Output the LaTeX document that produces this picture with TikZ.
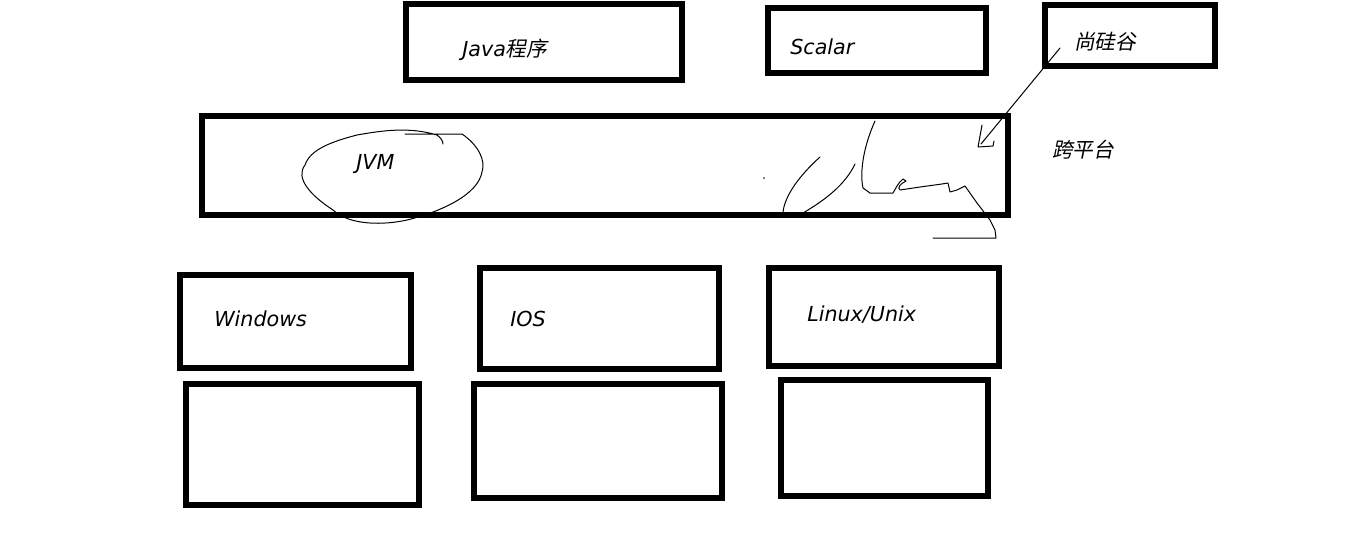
\documentclass[tikz,border=0pt]{standalone}
\usepackage{fontspec}
\setmainfont{DejaVu Sans}
\newfontfamily\cjk{Noto Sans CJK SC}[FakeSlant=0.2]
\usepackage{tikz}

\tikzset{
  box/.style={line width=4pt},
  pen/.style={line width=0.75pt, line cap=round, line join=round},
  label/.style={anchor=west, inner sep=0.75pt, font=\fontsize{15.5}{18}\selectfont\itshape}
}

\begin{document}
\begin{tikzpicture}[x=0.75pt,y=0.75pt,yscale=-1,xscale=1]
\useasboundingbox (0,0) rectangle (1352,557);

%Boxes top row
\draw [box] (406,4) rectangle (682,80) ;
\draw [box] (768,8) rectangle (986,73) ;
\draw [box] (1045,5) rectangle (1215,66) ;
%Box of the JVM
\draw [box] (202,116) rectangle (1008,215) ;
%Boxes of the systems
\draw [box] (180,275) rectangle (411,368) ;
\draw [box] (480,268) rectangle (719,369) ;
\draw [box] (769,268) rectangle (999,366) ;
%Empty boxes
\draw [box] (186,384) rectangle (419,505) ;
\draw [box] (474,384) rectangle (722,498) ;
\draw [box] (781,380) rectangle (988,496) ;

% Text Node
\node [label] (java) at (461,50) {Java{\cjk 程序}};
% Text Node
\node [label] (scalar) at (789,47) {Scalar};
% Text Node
\node [label] (sgg) at (1073,42) {\cjk 尚硅谷};
% Text Node
\node [label] (kpt) at (1051,150) {\cjk 跨平台};
% Text Node
\node [label] (jvm) at (355,164) {JVM};
% Text Node
\node [label] (win) at (213,319) {Windows};
% Text Node
\node [label] (ios) at (509,319) {IOS};
% Text Node
\node [label] (linux) at (806,315) {Linux/Unix};

%Hand drawn ring round JVM
\draw [pen] (405,134) -- (462,134) .. controls (478,145) and (486,160) .. (482,172)
  .. controls (478,195) and (440,212) .. (407,220)
  .. controls (385,225) and (350,226) .. (333,210)
  .. controls (310,195) and (295,178) .. (305,165)
  .. controls (310,150) and (330,142) .. (357,135)
  .. controls (385,130) and (410,127) .. (437,135)
  .. controls (441,138) and (443,141) .. (443,144) ;

%Hand drawn strokes
\draw [pen] (820,157) .. controls (800,175) and (785,195) .. (783,212) ;
\draw [pen] (803,213) .. controls (825,200) and (845,185) .. (855,164) ;
\draw [pen] (875,121) .. controls (862,150) and (860,175) .. (863,188)
  -- (870,193) -- (893,193) .. controls (896,188) and (898,183) .. (903,179)
  -- (906,181) .. controls (900,184) and (897,188) .. (900,190)
  -- (920,187) -- (942,184) -- (948,183) -- (950,192) -- (957,190) -- (965,186)
  -- (977,203) -- (990,220) -- (995,230) -- (996,238) -- (933,238) ;
\fill (764,178) circle (0.8) ;

%Arrow from the label
\coordinate (tail) at (1060,48) ;
\coordinate (tip) at (981,144) ;
\draw [pen] (tail) -- (tip) ;
\draw [pen] (982,125) -- (978,147) -- (993,146) -- (994,141) ;

\end{tikzpicture}
\end{document}
